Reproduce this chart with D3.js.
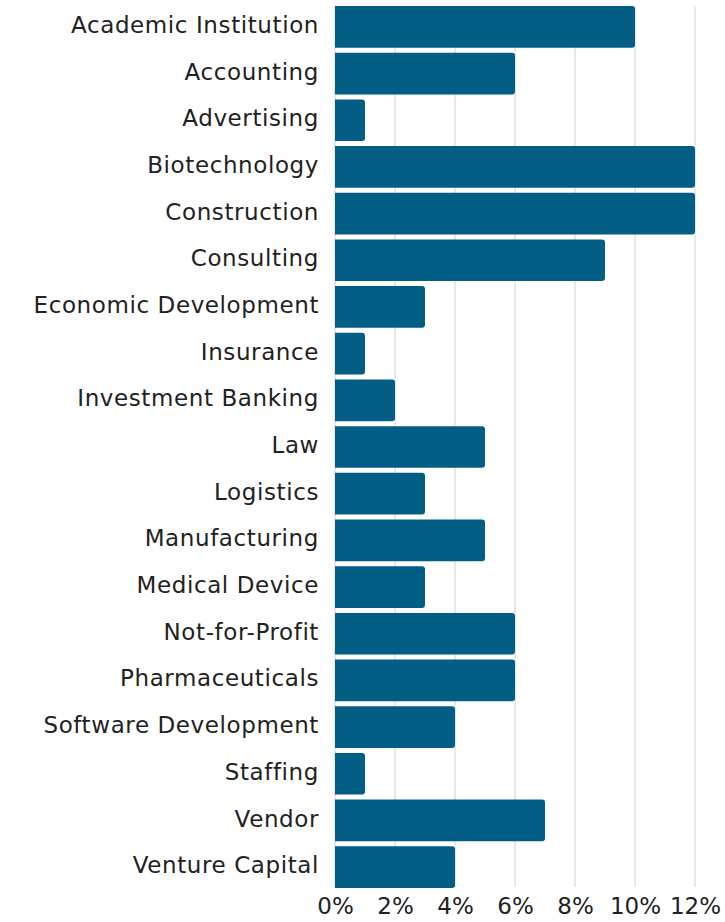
<!DOCTYPE html>
<html><head><meta charset="utf-8">
<script src="https://cdn.jsdelivr.net/npm/d3@7"></script>
<style>body{margin:0;background:#fff}svg{display:block}text{font-family:"DejaVu Sans",sans-serif}</style>
</head><body>
<script>
const categories = ["Academic Institution","Accounting","Advertising","Biotechnology","Construction","Consulting","Economic Development","Insurance","Investment Banking","Law","Logistics","Manufacturing","Medical Device","Not-for-Profit","Pharmaceuticals","Software Development","Staffing","Vendor","Venture Capital"];
const values = [10,6,1,12,12,9,3,1,2,5,3,5,3,6,6,4,1,7,4];
const tickValues = [0,2,4,6,8,10,12];
const tickLabels = ["0%","2%","4%","6%","8%","10%","12%"];

const W = 725, H = 922;
const svg = d3.select("body").append("svg").attr("width", W).attr("height", H);
const x = d3.scaleLinear().domain([0, 12]).range([335, 695]);
const y = d3.scaleBand().domain(categories).range([3.5, 890.5]).paddingInner(0.107).paddingOuter(0.054);

// gridlines
svg.append("g").selectAll("line").data(tickValues).join("line")
  .attr("x1", d => x(d)).attr("x2", d => x(d))
  .attr("y1", 6).attr("y2", 887)
  .attr("stroke", "#d0d0d0").attr("stroke-width", 1);

// bars with rounded right corners
const r = 3;
svg.append("g").selectAll("path").data(categories).join("path")
  .attr("d", (c, i) => {
    const x0 = x(0), x1 = x(values[i]), y0 = y(c), h = y.bandwidth();
    return `M${x0},${y0}H${x1 - r}Q${x1},${y0} ${x1},${y0 + r}V${y0 + h - r}Q${x1},${y0 + h} ${x1 - r},${y0 + h}H${x0}Z`;
  })
  .attr("fill", "#035e85");

// category labels
svg.append("g").selectAll("text").data(categories).join("text")
  .attr("x", 319).attr("y", c => y(c) + y.bandwidth() / 2 - 2)
  .attr("dy", "0.35em").attr("text-anchor", "end")
  .attr("font-size", 23).attr("letter-spacing", 0.6).attr("fill", "#222").text(d => d);

// x axis labels
const xAxis = d3.axisBottom(x).tickValues(tickValues).tickFormat((d, i) => tickLabels[i]).tickSize(0).tickPadding(0);
const gx = svg.append("g").attr("transform", "translate(0,898)").call(xAxis);
gx.select(".domain").remove();
gx.selectAll("text").attr("font-size", 23).attr("fill", "#222").attr("font-family", "DejaVu Sans, sans-serif").attr("dy", "0.71em");
</script>
</body></html>
